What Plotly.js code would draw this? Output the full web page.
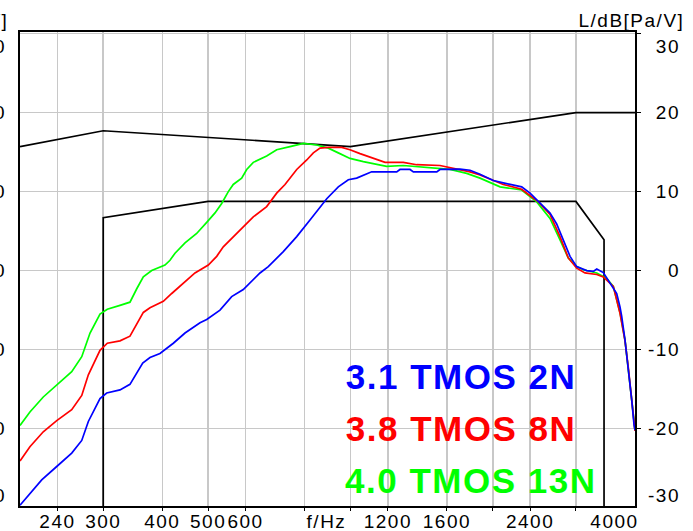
<!DOCTYPE html>
<html>
<head>
<meta charset="utf-8">
<script src="https://cdn.plot.ly/plotly-3.0.1.min.js"></script>
<style>
  html, body { margin: 0; padding: 0; background: #fff; }
  #chart { width: 693px; height: 531px; }
  .main-svg text { letter-spacing: 1.5px; }
</style>
</head>
<body>
<div id="chart"></div>
<script>
// Frequency responses (f in Hz, level in dB re 1 Pa/V)
const freqBlue = [200, 222.3, 239.2, 257.3, 270.2, 279.0, 295.3, 305.1, 325.5, 341.7, 363.6, 376.7, 395.5, 422.1, 446.8, 480.7, 496.6, 529.8, 560.8, 593.4, 643.8, 670.3, 721.2, 769.9, 821.3, 862.4, 891.1, 942.8, 989.9, 1031, 1074, 1109, 1253, 1273, 1337, 1359, 1523, 1547, 1706, 1791, 1880, 2006, 2106, 2303, 2399, 2518, 2644, 2731, 2821, 2915, 3011, 3162, 3265, 3320, 3428, 3512, 3599, 3659, 3718, 3749, 3810, 3872, 3937, 3981, 4000];
const dbBlue = [-29.7, -26.5, -24.8, -23.1, -21.5, -19.1, -16.2, -15.5, -15.1, -14.4, -11.7, -11.0, -10.5, -9.2, -7.9, -6.6, -6.2, -5.0, -3.3, -2.4, -0.3, 0.5, 2.4, 4.3, 6.4, 8.1, 9.1, 10.6, 11.5, 11.7, 12.2, 12.5, 12.5, 12.8, 12.8, 12.5, 12.5, 12.8, 12.85, 12.7, 12.2, 11.4, 11.1, 10.6, 9.8, 8.6, 7.3, 5.9, 3.8, 1.8, 0.5, 0.0, -0.1, 0.2, -0.25, -1.2, -2.2, -2.9, -4.6, -5.8, -8.8, -12.2, -16.4, -19.5, -20.2];

const freqRed = [200, 209.9, 224.0, 239.2, 257.3, 270.2, 279.0, 295.3, 306.0, 325.5, 341.7, 364.7, 376.7, 402.0, 418.8, 443.1, 469.0, 500.5, 521.4, 538.4, 565.2, 598.4, 623.1, 665.1, 698.3, 727.2, 769.9, 808.4, 834.8, 862.4, 898.0, 958.6, 998.0, 1048, 1118, 1184, 1294, 1381, 1547, 1679, 1791, 1880, 2106, 2303, 2498, 2644, 2776, 2890, 3011, 3135, 3320, 3428, 3512, 3599, 3718, 3810, 3872, 3937, 4000];
const dbRed = [-24.1, -22.3, -20.4, -19.0, -17.6, -15.8, -13.2, -10.1, -9.2, -8.9, -8.3, -5.3, -4.7, -3.9, -2.9, -1.6, -0.3, 0.7, 1.8, 3.0, 4.3, 5.8, 6.8, 8.1, 9.8, 10.9, 12.8, 14.0, 14.9, 15.5, 15.6, 15.6, 15.3, 14.8, 14.2, 13.7, 13.7, 13.4, 13.3, 12.85, 12.5, 12.1, 10.9, 10.3, 8.7, 7.1, 4.3, 1.6, 0.3, -0.3, -0.5, -0.8, -1.4, -2.0, -5.4, -8.9, -12.3, -16.5, -20.3];

const freqGreen = [200, 209.9, 224.0, 239.2, 257.3, 270.2, 281.3, 295.3, 306.0, 325.5, 341.7, 353.2, 364.7, 379.9, 405.3, 415.3, 425.6, 446.8, 472.9, 496.6, 517.1, 534.2, 551.7, 565.2, 588.8, 603.4, 623.1, 665.1, 698.3, 745.1, 795.1, 848.8, 898.0, 942.8, 998.0, 1065, 1137, 1193, 1294, 1426, 1523, 1625, 1762, 1880, 2073, 2303, 2479, 2644, 2776, 2890, 3011, 3110, 3320, 3485, 3599, 3718, 3810, 3872, 3937, 4000];
const dbGreen = [-19.6, -17.9, -16.0, -14.5, -12.8, -10.9, -7.9, -5.5, -4.9, -4.4, -4.0, -2.3, -0.8, 0.0, 0.7, 1.3, 2.2, 3.5, 4.7, 6.1, 7.3, 8.5, 10.0, 10.9, 11.7, 12.8, 13.7, 14.5, 15.3, 15.7, 16.1, 15.9, 15.5, 14.9, 14.2, 13.8, 13.5, 13.2, 13.3, 13.1, 13.0, 12.8, 12.3, 11.7, 10.6, 10.2, 8.7, 6.6, 3.9, 1.6, 0.5, 0.1, -0.3, -1.0, -2.0, -5.3, -8.8, -12.2, -16.4, -20.2];

// Tolerance template (upper and lower limit)
const upperF = [200, 300, 1000, 3000, 4000];
const upperDb = [15.7, 17.7, 15.7, 20, 20];
const lowerF = [300, 300, 500, 3000, 3440, 3440];
const lowerDb = [-40, 6.7, 8.75, 8.75, 3.9, -40];

const seriesNames = ['3.1 TMOS 2N', '3.8 TMOS 8N', '4.0 TMOS 13N'];
const seriesColors = ['#0000ff', '#ff0000', '#00ff00'];

// Axis ticks and labels
const xGridVals = [240, 300, 400, 500, 600, 800, 1000, 1200, 1600, 2000, 2400, 3000];
const xLabelVals = [240, 300, 400, 500, 600, 890, 1200, 1600, 2400, 3620];
const xLabelText = ['240', '300', '400', '500', '600', 'f/Hz', '1200', '1600', '2400', '4000'];
const yGridVals = [-30, -20, -10, 0, 10, 20, 30];
const yLabelVals = [-28.5, -20, -10, 0, 10, 20, 28.4];
const yLabelText = ['-30', '-20', '-10', '0', '10', '20', '30'];
const yTitle = 'L/dB[Pa/V]';

const FONT = 'Liberation Sans, Arial, sans-serif';
const GRID = '#c8c8c8';

function line(x, y, color, name) {
  return { x: x, y: y, type: 'scatter', mode: 'lines', name: name,
           line: { color: color, width: 1.7 }, hoverinfo: 'skip', xaxis: 'x', yaxis: 'y' };
}

// empty carriers so the label-only y axes get drawn
function carrier(axis) {
  return { x: [], y: [], type: 'scatter', mode: 'lines', xaxis: 'x', yaxis: axis,
           hoverinfo: 'skip', showlegend: false };
}

const data = [
  carrier('y2'),
  carrier('y3'),
  line(upperF, upperDb, '#000000', 'upper limit'),
  line(lowerF, lowerDb, '#000000', 'lower limit'),
  line(freqGreen, dbGreen, seriesColors[2], seriesNames[2]),
  line(freqRed, dbRed, seriesColors[1], seriesNames[1]),
  line(freqBlue, dbBlue, seriesColors[0], seriesNames[0])
];

const yRange = [-29.8, 30.2];
const plotW = 615, areaW = 663;

const layout = {
  width: 693, height: 531,
  margin: { l: 20, r: 10, t: 32, b: 25, pad: 0 },
  paper_bgcolor: '#ffffff', plot_bgcolor: '#ffffff',
  showlegend: false,
  font: { family: FONT, size: 19, color: '#000' },
  xaxis: {
    type: 'log', range: [Math.log10(200), Math.log10(4000)],
    domain: [0, plotW / areaW],
    tickmode: 'array', tickvals: xLabelVals, ticktext: xLabelText, tickangle: 0,
    ticks: '', showgrid: false, zeroline: false,
    ticklabelstandoff: -3,
    showline: true, linecolor: '#000', linewidth: 2, mirror: true,
    minor: { tickmode: 'array', tickvals: xGridVals, showgrid: true, gridcolor: GRID, gridwidth: 1.6,
             ticks: 'outside', ticklen: 3, tickcolor: '#000', tickwidth: 1 }
  },
  yaxis: {
    range: yRange, side: 'right', anchor: 'x',
    tickmode: 'array', tickvals: yGridVals, showticklabels: false,
    ticks: 'outside', ticklen: 4, tickcolor: '#000', tickwidth: 1,
    showgrid: true, gridcolor: GRID, gridwidth: 1.6, zeroline: false,
    showline: true, linecolor: '#000', linewidth: 2, mirror: true
  },
  // right-hand labels, right aligned
  yaxis2: {
    range: yRange, overlaying: 'y', side: 'left', anchor: 'free', position: 1,
    tickmode: 'array', tickvals: yLabelVals, ticktext: yLabelText,
    ticks: '', showgrid: false, zeroline: false, showline: false,
    ticklabelstandoff: 3
  },
  // left-hand labels
  yaxis3: {
    range: yRange, overlaying: 'y', side: 'left', anchor: 'x',
    tickmode: 'array', tickvals: yLabelVals, ticktext: yLabelText,
    ticks: '', showgrid: false, zeroline: false, showline: false,
    ticklabelstandoff: 13
  },
  annotations: [
    { text: yTitle, xref: 'paper', yref: 'paper', x: 659 / areaW, y: 1 + 11 / 474,
      xanchor: 'right', yanchor: 'middle', showarrow: false, font: { size: 19 } },
    { text: yTitle, xref: 'paper', yref: 'paper', x: -17 / areaW, y: 1 + 11 / 474,
      xanchor: 'right', yanchor: 'middle', showarrow: false, font: { size: 19 } },
    { text: '<b>' + seriesNames[0] + '</b>', xref: 'paper', yref: 'paper', x: 332 / areaW, y: 0.274,
      xanchor: 'left', yanchor: 'middle', showarrow: false, font: { size: 35, color: seriesColors[0] } },
    { text: '<b>' + seriesNames[1] + '</b>', xref: 'paper', yref: 'paper', x: 332 / areaW, y: 0.164,
      xanchor: 'left', yanchor: 'middle', showarrow: false, font: { size: 35, color: seriesColors[1] } },
    { text: '<b>' + seriesNames[2] + '</b>', xref: 'paper', yref: 'paper', x: 332 / areaW, y: 0.0546,
      xanchor: 'left', yanchor: 'middle', showarrow: false, font: { size: 35, color: seriesColors[2] } }
  ]
};

Plotly.newPlot('chart', data, layout, { staticPlot: true, displayModeBar: false });
</script>
</body>
</html>
